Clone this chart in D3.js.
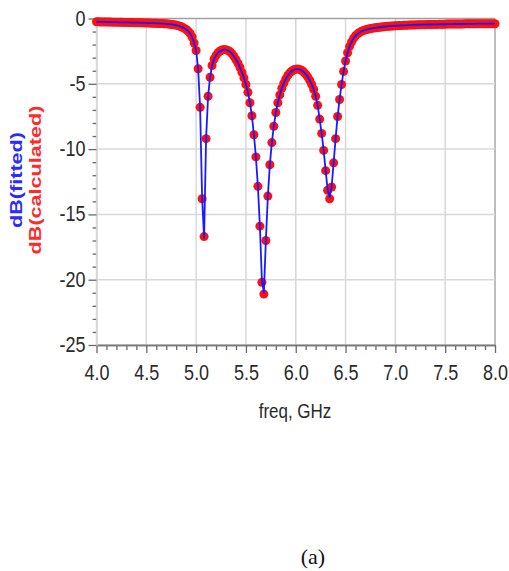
<!DOCTYPE html>
<html>
<head>
<meta charset="utf-8">
<script src="https://cdn.jsdelivr.net/npm/d3@7/dist/d3.min.js"></script>
<style>
  html, body { margin: 0; padding: 0; background: #fff; }
  svg { display: block; }
</style>
</head>
<body>
<script>
// Frequency sweep: 4.00 .. 8.00 GHz in 0.02 GHz steps (201 samples)
const freqStart = 4.0;
const freqStep = 0.02;

// Calculated response, dB (one value per sweep sample)
const dbCalculated = [
  -0.25,-0.25,-0.26,-0.26,-0.26,-0.27,-0.27,-0.27,-0.28,-0.28,
  -0.28,-0.29,-0.29,-0.29,-0.30,-0.30,-0.30,-0.31,-0.31,-0.32,
  -0.32,-0.32,-0.33,-0.33,-0.34,-0.34,-0.35,-0.35,-0.36,-0.36,
  -0.37,-0.38,-0.38,-0.39,-0.40,-0.41,-0.42,-0.44,-0.46,-0.48,
  -0.51,-0.55,-0.60,-0.66,-0.74,-0.84,-0.97,-1.15,-1.42,-1.88,
  -2.45,-3.85,-6.8,-13.8,-16.7,-9.2,-5.95,-4.5,-3.6,-3.1,
  -2.82,-2.62,-2.49,-2.41,-2.38,-2.39,-2.45,-2.55,-2.7,-2.9,
  -3.15,-3.42,-3.75,-4.12,-4.55,-5.05,-5.65,-6.45,-7.45,-8.9,
  -10.6,-12.85,-15.9,-20.2,-21.1,-17.0,-13.6,-11.2,-9.5,-8.25,
  -7.2,-6.45,-5.85,-5.35,-4.95,-4.62,-4.36,-4.16,-4.02,-3.93,
  -3.88,-3.87,-3.9,-3.98,-4.1,-4.26,-4.47,-4.73,-5.05,-5.43,
  -5.95,-6.65,-7.7,-8.8,-10.1,-11.65,-13.15,-13.8,-12.9,-11.05,
  -9.2,-7.5,-6.2,-5.05,-4.05,-3.25,-2.62,-2.15,-1.8,-1.52,
  -1.32,-1.18,-1.07,-0.98,-0.92,-0.87,-0.83,-0.79,-0.76,-0.73,
  -0.71,-0.69,-0.67,-0.65,-0.63,-0.62,-0.60,-0.59,-0.58,-0.57,
  -0.56,-0.55,-0.54,-0.53,-0.52,-0.52,-0.51,-0.50,-0.50,-0.49,
  -0.49,-0.48,-0.48,-0.47,-0.47,-0.47,-0.46,-0.46,-0.46,-0.45,
  -0.45,-0.45,-0.44,-0.44,-0.44,-0.44,-0.43,-0.43,-0.43,-0.43,
  -0.42,-0.42,-0.42,-0.42,-0.42,-0.41,-0.41,-0.41,-0.41,-0.41,
  -0.41,-0.40,-0.40,-0.40,-0.40,-0.40,-0.40,-0.40,-0.40,-0.40,
  -0.40
];

// Fitted model response, dB (same sweep)
const dbFitted = [
  -0.25,-0.25,-0.26,-0.26,-0.26,-0.27,-0.27,-0.27,-0.28,-0.28,
  -0.28,-0.29,-0.29,-0.29,-0.30,-0.30,-0.30,-0.31,-0.31,-0.32,
  -0.32,-0.32,-0.33,-0.33,-0.34,-0.34,-0.35,-0.35,-0.36,-0.36,
  -0.37,-0.38,-0.38,-0.39,-0.40,-0.41,-0.42,-0.44,-0.46,-0.48,
  -0.51,-0.55,-0.60,-0.66,-0.74,-0.84,-0.97,-1.15,-1.42,-1.88,
  -2.45,-3.85,-6.8,-13.7,-16.8,-9.2,-5.95,-4.5,-3.6,-3.1,
  -2.82,-2.62,-2.49,-2.41,-2.38,-2.39,-2.45,-2.55,-2.7,-2.9,
  -3.15,-3.42,-3.75,-4.12,-4.55,-5.05,-5.65,-6.45,-7.45,-8.9,
  -10.6,-12.85,-15.9,-20.0,-21.0,-17.0,-13.6,-11.2,-9.5,-8.25,
  -7.2,-6.45,-5.85,-5.35,-4.95,-4.62,-4.36,-4.16,-4.02,-3.93,
  -3.88,-3.87,-3.9,-3.98,-4.1,-4.26,-4.47,-4.73,-5.05,-5.43,
  -5.95,-6.65,-7.7,-8.8,-10.1,-11.65,-13.1,-13.7,-12.9,-11.05,
  -9.2,-7.5,-6.2,-5.05,-4.05,-3.25,-2.62,-2.15,-1.8,-1.52,
  -1.32,-1.18,-1.07,-0.98,-0.92,-0.87,-0.83,-0.79,-0.76,-0.73,
  -0.71,-0.69,-0.67,-0.65,-0.63,-0.62,-0.60,-0.59,-0.58,-0.57,
  -0.56,-0.55,-0.54,-0.53,-0.52,-0.52,-0.51,-0.50,-0.50,-0.49,
  -0.49,-0.48,-0.48,-0.47,-0.47,-0.47,-0.46,-0.46,-0.46,-0.45,
  -0.45,-0.45,-0.44,-0.44,-0.44,-0.44,-0.43,-0.43,-0.43,-0.43,
  -0.42,-0.42,-0.42,-0.42,-0.42,-0.41,-0.41,-0.41,-0.41,-0.41,
  -0.41,-0.40,-0.40,-0.40,-0.40,-0.40,-0.40,-0.40,-0.40,-0.40,
  -0.40
];

// Axis ticks
const xMajorTicks = [4.0, 4.5, 5.0, 5.5, 6.0, 6.5, 7.0, 7.5, 8.0];
const xTickLabels = ["4.0", "4.5", "5.0", "5.5", "6.0", "6.5", "7.0", "7.5", "8.0"];
const yMajorTicks = [0, -5, -10, -15, -20, -25];
const yTickLabels = ["0", "-5", "-10", "-15", "-20", "-25"];

const W = 509, H = 571;
const svg = d3.select("body").append("svg").attr("width", W).attr("height", H);
svg.append("rect").attr("width", W).attr("height", H).attr("fill", "#fff");

const x = d3.scaleLinear().domain([4, 8]).range([96.5, 495]);
const y = d3.scaleLinear().domain([-25, 0]).range([345, 18.5]);

const freq = dbCalculated.map((_, i) => +(freqStart + i * freqStep).toFixed(2));
const calc = freq.map((f, i) => ({ f, v: dbCalculated[i] }));
const fit = freq.map((f, i) => ({ f, v: dbFitted[i] }));

const font = "Arial, 'Liberation Sans', Helvetica, sans-serif";
const textColor = "#2a2a2a";

// Grid
const grid = svg.append("g");
grid.selectAll("line.gx").data(xMajorTicks).join("line")
  .attr("x1", d => x(d)).attr("x2", d => x(d))
  .attr("y1", y(0)).attr("y2", y(-25))
  .attr("stroke", d => d === 8 ? "#a8a8a8" : "#d8d8d8").attr("stroke-width", 1.5);
grid.selectAll("line.gy").data(yMajorTicks).join("line")
  .attr("x1", x(4)).attr("x2", x(8))
  .attr("y1", d => y(d)).attr("y2", d => y(d))
  .attr("stroke", d => d === 0 ? "#a0a0a0" : "#d8d8d8").attr("stroke-width", 1.5);

// X axis: major + minor ticks
const xMinor = d3.range(40, 81).map(k => k / 10).filter(v => Math.abs(v * 2 - Math.round(v * 2)) > 1e-6);
const xAxisMinor = d3.axisBottom(x).tickValues(xMinor).tickSize(5).tickFormat("").tickSizeOuter(0);
const xAxisMajor = d3.axisBottom(x).tickValues(xMajorTicks).tickSize(8).tickSizeOuter(0)
  .tickFormat((d, i) => xTickLabels[i]);

const gxMin = svg.append("g").attr("transform", `translate(0,${y(-25)})`).call(xAxisMinor);
const gxMaj = svg.append("g").attr("transform", `translate(0,${y(-25)})`).call(xAxisMajor);
[gxMin, gxMaj].forEach(g => {
  g.select(".domain").attr("stroke", "#7a7a7a").attr("stroke-width", 1.5);
  g.selectAll(".tick line").attr("stroke", "#6a6a6a").attr("stroke-width", 1.3);
});
// tick labels sit with their baseline ~35px below the axis, slightly tall
gxMaj.selectAll(".tick text")
  .attr("fill", textColor).attr("font-family", font).attr("font-size", 18)
  .attr("y", 0).attr("dy", 0)
  .attr("transform", "translate(0,35) scale(1,1.18)");

// Y axis: major + minor ticks
const yMinor = d3.range(-25, 1).filter(v => v % 5 !== 0);
const yAxisMinor = d3.axisLeft(y).tickValues(yMinor).tickSize(4).tickFormat("").tickSizeOuter(0);
const yAxisMajor = d3.axisLeft(y).tickValues(yMajorTicks).tickSize(8).tickSizeOuter(0)
  .tickFormat((d, i) => yTickLabels[i]);
const gyMin = svg.append("g").attr("transform", `translate(${x(4)},0)`).call(yAxisMinor);
const gyMaj = svg.append("g").attr("transform", `translate(${x(4)},0)`).call(yAxisMajor);
[gyMin, gyMaj].forEach(g => {
  g.select(".domain").attr("stroke", "#d8d8d8").attr("stroke-width", 1.5);
  g.selectAll(".tick line").attr("stroke", "#6a6a6a").attr("stroke-width", 1.3);
});
gyMaj.selectAll(".tick text")
  .attr("fill", textColor).attr("font-family", font).attr("font-size", 18)
  .attr("x", 0).attr("dy", 0)
  .attr("transform", "translate(-11,6.5) scale(1,1.18)");

// Series: calculated points, fitted line drawn on top
const plot = svg.append("g");
plot.selectAll("circle").data(calc).join("circle")
  .attr("cx", d => x(d.f)).attr("cy", d => y(d.v)).attr("r", 4.5)
  .attr("fill", "#ff1010").attr("stroke", "none");

const line = d3.line().x(d => x(d.f)).y(d => y(d.v));
plot.append("path").datum(fit)
  .attr("d", line).attr("fill", "none")
  .attr("stroke", "#1a1aff").attr("stroke-width", 1.8).attr("stroke-linejoin", "round");

// Axis titles
svg.append("text")
  .attr("transform", "translate(295,418) scale(1,1.18)")
  .attr("text-anchor", "middle").attr("font-family", font).attr("font-size", 17)
  .attr("fill", textColor).text("freq, GHz");

svg.append("text")
  .attr("transform", "translate(22,180) scale(1,1.35) rotate(-90)")
  .attr("text-anchor", "middle").attr("font-family", font).attr("font-size", 16)
  .attr("font-weight", "bold").attr("fill", "#2b2bff").text("dB(fitted)");
svg.append("text")
  .attr("transform", "translate(41,180) scale(1,1.35) rotate(-90)")
  .attr("text-anchor", "middle").attr("font-family", font).attr("font-size", 16)
  .attr("font-weight", "bold").attr("fill", "#ff2b2b").text("dB(calculated)");

// Panel caption
svg.append("text")
  .attr("x", 313).attr("y", 564)
  .attr("text-anchor", "middle")
  .attr("font-family", "'Times New Roman', 'Liberation Serif', serif").attr("font-size", 22)
  .attr("fill", "#111").text("(a)");
</script>
</body>
</html>
